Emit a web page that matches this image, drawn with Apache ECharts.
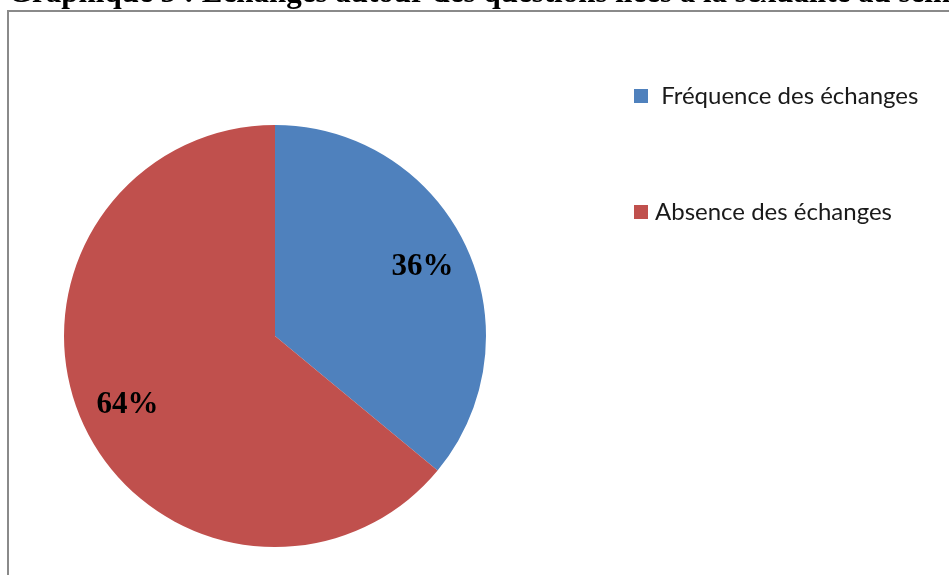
<!DOCTYPE html>
<html>
<head>
<meta charset="utf-8">
<script src="https://cdn.jsdelivr.net/npm/echarts@6/dist/echarts.min.js"></script>
<style>
  html, body { margin: 0; padding: 0; background: #fff; }
  #chart { width: 949px; height: 575px; }
</style>
</head>
<body>
<div id="chart"></div>
<script>
// Categories and shares (%) of the pie
const categories = [' Fréquence des échanges', 'Absence des échanges'];
const shares = [36, 64];
const colors = ['#4F81BD', '#C0504D'];
const titleText = 'Graphique 5 : Echanges autour des questions liées à la sexualité au sein de la famille';

const chart = echarts.init(document.getElementById('chart'));

const slices = categories.map((name, i) => ({ name, value: shares[i], itemStyle: { color: colors[i] } }));

chart.setOption({
  animation: false,
  graphic: [
    {
      type: 'rect',
      shape: { x: 8, y: 11, width: 1200, height: 800 },
      style: { fill: 'none', stroke: '#8a8a8a', lineWidth: 2 },
      silent: true
    },
    {
      type: 'text',
      x: 8, y: 9,
      style: {
        text: titleText,
        font: 'bold 31px "Liberation Serif", "Times New Roman", serif',
        fill: '#000',
        textVerticalAlign: 'bottom'
      },
      silent: true
    }
  ],
  legend: {
    orient: 'vertical',
    left: 629,
    top: 79,
    itemWidth: 14,
    itemHeight: 14,
    itemGap: 92,
    icon: 'rect',
    selectedMode: false,
    textStyle: {
      fontFamily: 'Lato, "Open Sans", sans-serif',
      fontSize: 24,
      lineHeight: 24,
      color: '#1a1a1a',
      padding: [0, 0, 0, 2]
    },
    data: categories.map((name, i) => ({ name, itemStyle: { color: colors[i] } }))
  },
  series: [
    {
      type: 'pie',
      center: [275, 336],
      radius: [0, 211],
      startAngle: 90,
      clockwise: true,
      label: { show: false },
      labelLine: { show: false },
      emphasis: { disabled: true },
      data: slices
    },
    {
      // transparent overlay used only to place the percentage labels further out
      type: 'pie',
      center: [275, 336],
      radius: [0, 320],
      startAngle: 90,
      clockwise: true,
      silent: true,
      itemStyle: { color: 'rgba(0,0,0,0)' },
      label: {
        show: true,
        position: 'inside',
        formatter: p => p.value + '%',
        fontFamily: '"Liberation Serif", "Times New Roman", serif',
        fontWeight: 'bold',
        fontSize: 31,
        color: '#000'
      },
      labelLine: { show: false },
      emphasis: { disabled: true },
      data: categories.map((name, i) => ({ name, value: shares[i] }))
    }
  ]
});
</script>
</body>
</html>
